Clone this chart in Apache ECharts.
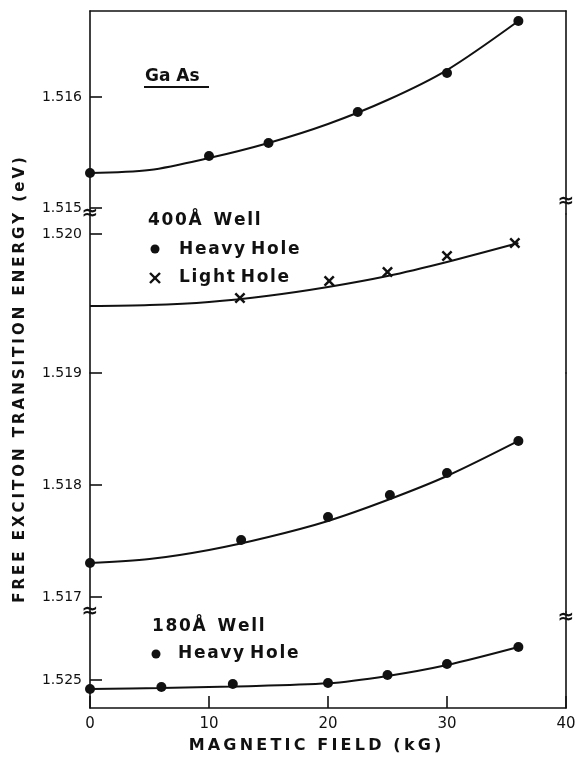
<!DOCTYPE html>
<html>
<head>
<meta charset="utf-8">
<script src="https://cdn.jsdelivr.net/npm/echarts@6/dist/echarts.min.js"></script>
<style>
  html, body { margin: 0; padding: 0; background: #fff; }
  #chart { width: 579px; height: 761px; }
</style>
</head>
<body>
<div id="chart"></div>
<script>
// GaAs bulk
var gaasField = [0, 10, 15, 22.5, 30, 36];
var gaasEnergy = [1.515315, 1.515468, 1.515586, 1.515865, 1.516216, 1.516685];
var gaasFitField = [0, 5, 10, 15, 20, 25, 30, 36];
var gaasFitEnergy = [1.515315, 1.515342, 1.515450, 1.515586, 1.515757, 1.515973, 1.516243, 1.516685];

// 400 A well, light hole
var lh400Field = [12.6, 20.1, 25, 30, 35.7];
var lh400Energy = [1.519540, 1.519662, 1.519727, 1.519842, 1.519935];
var lh400FitField = [0, 5, 10, 15, 20, 25, 30, 36];
var lh400FitEnergy = [1.519482, 1.519489, 1.519511, 1.519556, 1.519619, 1.519698, 1.519799, 1.519935];

// 400 A well, heavy hole
var hh400Field = [0, 12.7, 20, 25.2, 30, 36];
var hh400Energy = [1.517304, 1.517509, 1.517714, 1.517911, 1.518107, 1.518393];
var hh400FitField = [0, 5, 10, 15, 20, 25, 30, 36];
var hh400FitEnergy = [1.517304, 1.517339, 1.517420, 1.517536, 1.517679, 1.517866, 1.518080, 1.518393];

// 180 A well, heavy hole
var hh180Field = [0, 6, 12, 20, 25, 30, 36];
var hh180Energy = [1.524920, 1.524938, 1.524964, 1.524973, 1.525045, 1.525143, 1.525295];
var hh180FitField = [0, 6, 12, 20, 25, 30, 36];
var hh180FitEnergy = [1.524920, 1.524929, 1.524942, 1.524970, 1.525036, 1.525134, 1.525295];

// y ranges of the four stacked panels and their tick labels
var panelRanges = [[1.514946, 1.516775], [1.519, 1.520144], [1.516866, 1.519], [1.52475, 1.525607]];
var panelTicks = [[1.515, 1.516], [1.520], [1.517, 1.518, 1.519], [1.525]];

function zip(xs, ys) {
  return xs.map(function (x, i) { return [x, ys[i]]; });
}
function spaced(s, gap) {
  return s.split('').join(gap || '\u2009');
}

var ink = '#111';
var font = 'DejaVu Sans';
var grids = [
  { left: 90, right: 13, top: 11, height: 203 },
  { left: 90, right: 13, top: 214, height: 159 },
  { left: 90, right: 13, top: 373, height: 239 },
  { left: 90, right: 13, top: 612, height: 96 }
];

var xAxes = [], yAxes = [];
grids.forEach(function (g, i) {
  xAxes.push({
    gridIndex: i, type: 'value', min: 0, max: 40, interval: 10,
    show: i === 0 || i === 3,
    position: i === 0 ? 'top' : 'bottom',
    axisLine: { show: true, onZero: false, lineStyle: { color: ink, width: 1.6 } },
    axisTick: { show: i === 3, inside: true, length: 12, lineStyle: { color: ink, width: 1.6 } },
    axisLabel: { show: i === 3, margin: 9, fontFamily: font, fontSize: 15, color: ink },
    splitLine: { show: false },
    name: i === 3 ? spaced('MAGNETIC FIELD (kG)') : '',
    nameLocation: 'middle', nameGap: 30,
    nameTextStyle: { fontFamily: font, fontWeight: 'bold', fontSize: 16, color: ink, padding: [0, 26, 0, 0] }
  });
  yAxes.push({
    gridIndex: i, type: 'value', min: panelRanges[i][0], max: panelRanges[i][1],
    axisLine: { show: true, onZero: false, lineStyle: { color: ink, width: 1.6 } },
    axisTick: { show: true, inside: true, length: 12, customValues: panelTicks[i], lineStyle: { color: ink, width: 1.6 } },
    axisLabel: {
      customValues: panelTicks[i], margin: 8, fontFamily: font, fontSize: 14, color: ink,
      formatter: function (v) { return Number(v).toFixed(3); }
    },
    splitLine: { show: false }
  });
  yAxes.push({
    gridIndex: i, type: 'value', position: 'right', min: panelRanges[i][0], max: panelRanges[i][1],
    axisLine: { show: true, onZero: false, lineStyle: { color: ink, width: 1.6 } },
    axisTick: { show: false }, axisLabel: { show: false }, splitLine: { show: false }
  });
});

var crossSymbol = 'path://M0,1.6L1.6,0L5,3.4L8.4,0L10,1.6L6.6,5L10,8.4L8.4,10L5,6.6L1.6,10L0,8.4L3.4,5Z';

function fitLine(i, xs, ys) {
  return {
    type: 'line', xAxisIndex: i, yAxisIndex: i * 2, data: zip(xs, ys),
    smooth: 0.3, showSymbol: false, clip: false, silent: true,
    lineStyle: { color: ink, width: 2 }
  };
}
function points(i, xs, ys, symbol, size) {
  return {
    type: 'scatter', xAxisIndex: i, yAxisIndex: i * 2, data: zip(xs, ys),
    symbol: symbol, symbolSize: size, clip: false, silent: true,
    itemStyle: { color: ink, opacity: 1 }
  };
}

var series = [
  fitLine(0, gaasFitField, gaasFitEnergy), points(0, gaasField, gaasEnergy, 'circle', 10),
  fitLine(1, lh400FitField, lh400FitEnergy), points(1, lh400Field, lh400Energy, crossSymbol, 11),
  fitLine(2, hh400FitField, hh400FitEnergy), points(2, hh400Field, hh400Energy, 'circle', 10),
  fitLine(3, hh180FitField, hh180FitEnergy), points(3, hh180Field, hh180Energy, 'circle', 10)
];

function label(x, y, text, size) {
  return {
    type: 'text', x: x, y: y,
    style: { text: text, fill: ink, font: 'bold ' + size + 'px "' + font + '"', textVerticalAlign: 'middle' }
  };
}
function breakMark(x, y) {
  return {
    type: 'text', x: x, y: y,
    style: { text: '\u2248', fill: ink, font: 'bold 20px "' + font + '"', textAlign: 'center', textVerticalAlign: 'middle' }
  };
}
function stroke(x1, y1, x2, y2, w) {
  return { type: 'line', shape: { x1: x1, y1: y1, x2: x2, y2: y2 }, style: { stroke: ink, lineWidth: w } };
}

var hair = '\u200a';
var graphics = [
  {
    type: 'text', x: 20, y: 380, rotation: Math.PI / 2,
    style: {
      text: spaced('FREE EXCITON TRANSITION ENERGY (eV)'), fill: ink,
      font: 'bold 15px "' + font + '"', textAlign: 'center', textVerticalAlign: 'middle'
    }
  },
  label(145, 77, 'Ga As', 17),
  stroke(144, 87, 209, 87, 2),
  label(148, 221, spaced('400Å', hair) + '  ' + spaced('Well', hair), 17),
  { type: 'circle', shape: { cx: 155, cy: 249, r: 4.5 }, style: { fill: ink } },
  label(179, 250, spaced('Heavy', hair) + ' ' + spaced('Hole', hair), 17),
  stroke(150, 273, 160, 283, 2.4),
  stroke(160, 273, 150, 283, 2.4),
  label(179, 278, spaced('Light', hair) + ' ' + spaced('Hole', hair), 17),
  label(152, 627, spaced('180Å', hair) + '  ' + spaced('Well', hair), 17),
  { type: 'circle', shape: { cx: 156, cy: 654, r: 4.5 }, style: { fill: ink } },
  label(178, 654, spaced('Heavy', hair) + ' ' + spaced('Hole', hair), 17),
  breakMark(90, 214), breakMark(566, 202), breakMark(90, 612), breakMark(566, 618)
];

var myChart = echarts.init(document.getElementById('chart'));
var option = {
  animation: false,
  backgroundColor: '#fff',
  grid: grids,
  xAxis: xAxes,
  yAxis: yAxes,
  series: series,
  graphic: graphics
};
option && myChart.setOption(option);
</script>
</body>
</html>
